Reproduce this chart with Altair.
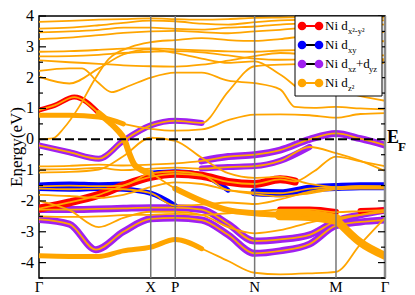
import altair as alt
import pandas as pd

# ---- k-path (path distance, Gamma=0) ----
K = [0.0, 0.31, 0.61, 0.86, 1.14, 1.39, 1.66, 1.93, 2.20, 2.46, 2.76, 3.03, 3.28, 3.53]
K_SYM = [0.0, 1.14, 1.39, 2.20, 3.03, 3.53]
K_LAB = ["Γ", "X", "P", "N", "M", "Γ"]
K_VLINES = [1.14, 1.39, 2.20, 3.03]
E_MAJ = [-4, -3, -2, -1, 0, 1, 2, 3, 4]
E_MIN = [-4.5, -3.5, -2.5, -1.5, -0.5, 0.5, 1.5, 2.5, 3.5]

# ---- bands (energies in eV) ----
U1_E = [3.81, 3.84, 3.88, 3.90, 3.92, 3.90, 3.88, 3.90, 3.94, 3.95, 3.96, 3.95, 3.94, 3.95]
U2_E = [3.59, 3.62, 3.70, 3.78, 3.85, 3.83, 3.75, 3.72, 3.80, 3.86, 3.88, 3.90, 3.88, 3.86]
U3_E = [3.47, 3.50, 3.55, 3.62, 3.62, 3.58, 3.56, 3.62, 3.66, 3.72, 3.78, 3.80, 3.76, 3.72]
U4_E = [3.25, 3.30, 3.38, 3.45, 3.50, 3.52, 3.48, 3.44, 3.50, 3.55, 3.62, 3.58, 3.52, 3.48]
U5_E = [2.84, 2.86, 2.90, 2.94, 2.95, 2.92, 2.88, 2.85, 2.84, 2.88, 2.90, 2.80, 2.75, 2.72]
U6_E = [2.69, 2.70, 2.74, 2.80, 2.84, 2.86, 2.82, 2.72, 2.62, 2.58, 2.60, 2.62, 2.58, 2.55]
U7_E = [2.56, 2.50, 2.45, 2.40, 2.37, 2.36, 2.42, 2.55, 2.70, 2.80, 2.75, 2.68, 2.62, 2.60]
U9_E = [2.03, 1.81, 2.30, 2.75, 2.92, 2.80, 2.62, 2.48, 2.53, 2.10, 1.50, 1.60, 1.40, 1.25]
S_K = [0.0, 0.14, 0.25, 0.41, 0.56, 0.71, 0.94, 1.14, 1.39, 1.66, 1.93, 2.20, 2.46, 2.76, 3.03, 3.28, 3.53]
S_E = [0.00, 0.03, 0.35, 1.06, 1.90, 2.60, 3.00, 3.15, 3.22, 3.28, 3.22, 3.19, 3.25, 3.35, 3.30, 3.22, 3.18]
U8_K = [0.0, 0.31, 0.44, 0.60, 0.74, 0.91, 1.14, 1.39, 1.66, 1.93, 2.20, 2.46, 2.61, 2.81, 3.03, 3.28, 3.53]
U8_E = [2.22, 2.30, 2.30, 1.85, 1.53, 1.72, 2.00, 2.16, 2.16, 1.90, 1.82, 1.62, 1.05, 1.02, 1.05, 1.00, 0.97]
P1_E = [-0.20, -0.42, -0.63, -0.05, 0.45, 0.60, 0.53, 1.55, 2.37, 2.42, 2.45, 2.35, 2.40, 2.48]
F1_E = [0.78, 0.78, 0.72, 0.50, 0.34, 0.28, 0.32, 0.62, 0.80, 0.81, 0.78, 0.70, 0.82, 0.85]
R1_K = [0.0, 0.16, 0.36, 0.61, 0.72, 0.80, 0.87, 0.92, 0.98, 1.14, 1.39, 1.66, 1.93, 2.20, 2.46, 2.76, 3.03, 3.28, 3.53]
R1_E = [0.95, 1.10, 1.37, 0.85, 0.55, 0.30, 0.00, -0.45, -0.85, -1.10, -1.60, -2.00, -2.30, -2.40, -2.45, -2.47, -2.60, -3.35, -3.78]
D_E = [-1.08, -1.06, -0.98, -0.55, 0.05, -0.05, -0.60, -1.10, -1.25, -1.22, -1.45, -1.55, -1.52, -1.55]
P2_E = [-0.88, -0.86, -0.82, -0.85, -0.82, -0.78, -0.70, -0.56, -0.50, -0.35, 0.00, 0.19, 0.02, -0.19]
P3_E = [-0.98, -0.97, -0.93, -1.00, -0.95, -0.92, -0.95, -0.90, -0.87, -0.70, -0.25, -0.45, -0.70, -1.03]
R2_K = [0.0, 0.31, 0.61, 0.86, 1.14, 1.39, 1.66, 1.93, 2.20, 2.46, 2.61, 2.81, 3.03, 3.28, 3.53]
R2_E = [-2.25, -2.05, -1.80, -1.50, -1.22, -1.12, -1.18, -1.38, -1.45, -1.30, -1.37, -1.03, -0.56, -0.72, -0.87]
B1_E = [-1.53, -1.50, -1.52, -1.50, -1.10, -1.05, -1.15, -1.65, -1.72, -1.75, -1.60, -1.55, -1.52, -1.52]
B2_E = [-1.60, -1.62, -1.60, -1.62, -1.75, -2.15, -2.12, -2.05, -2.10, -1.95, -1.70, -1.58, -1.56, -1.56]
O3_E = [-1.80, -1.84, -1.90, -1.80, -1.55, -1.40, -1.45, -1.65, -1.78, -1.85, -1.75, -1.62, -1.60, -1.60]
OD_E = [-2.00, -2.30, -2.85, -2.55, -2.35, -2.35, -2.45, -2.85, -3.05, -2.95, -2.70, -2.55, -2.45, -2.35]
P4_E = [-2.28, -2.28, -2.26, -2.24, -2.22, -2.22, -2.28, -2.75, -3.30, -3.25, -3.10, -2.65, -2.45, -2.30]
P5_K = [0.0, 0.31, 0.58, 0.86, 1.14, 1.39, 1.66, 1.93, 2.20, 2.46, 2.76, 3.03, 3.28, 3.53]
P5_E = [-2.60, -2.75, -3.58, -3.00, -2.58, -2.55, -2.62, -3.10, -3.70, -3.62, -3.40, -2.80, -2.68, -2.62]
R3_E = [-2.50, -2.52, -2.50, -2.46, -2.45, -2.42, -2.45, -2.40, -2.35, -2.28, -2.28, -2.36, -2.33, -2.30]
FO_E = [-3.78, -3.80, -3.80, -3.62, -3.50, -3.25, -3.55, -3.95, -4.33, -4.38, -4.35, -4.30, -3.40, -2.55]

BANDS = {
    "U1": (K, U1_E), "U2": (K, U2_E), "U3": (K, U3_E), "U4": (K, U4_E),
    "U5": (K, U5_E), "U6": (K, U6_E), "U7": (K, U7_E), "U9": (K, U9_E),
    "S": (S_K, S_E), "U8": (U8_K, U8_E), "P1": (K, P1_E), "F1": (K, F1_E),
    "R1": (R1_K, R1_E), "D": (K, D_E), "P2": (K, P2_E), "P3": (K, P3_E),
    "R2": (R2_K, R2_E), "B1": (K, B1_E), "B2": (K, B2_E), "O3": (K, O3_E),
    "OD": (K, OD_E), "P4": (K, P4_E), "P5": (P5_K, P5_E), "R3": (K, R3_E),
    "FO": (K, FO_E),
}

RED, BLUE, PURPLE, ORANGE = "#ff0000", "#0000ff", "#a020f0", "#ffa500"

# fat-band (orbital character) segments: band, colour, k from, k to, width
FAT = [
    ("P1", PURPLE, 0.0, 1.66, 6), ("P2", PURPLE, 1.66, 3.53, 7), ("P3", PURPLE, 1.66, 2.76, 6),
    ("P4", PURPLE, 0.0, 3.53, 7), ("P5", PURPLE, 0.0, 3.53, 7),
    ("B1", BLUE, 0.0, 0.86, 8), ("B1", BLUE, 1.14, 1.93, 5), ("B1", BLUE, 2.20, 3.53, 8),
    ("B2", BLUE, 0.0, 1.39, 5),
    ("R2", RED, 0.0, 2.61, 8), ("R1", RED, 0.0, 0.61, 5),
    ("R3", RED, 2.46, 3.03, 6), ("R3", RED, 3.28, 3.53, 6),
    ("F1", ORANGE, 0.0, 0.86, 5), ("R1", ORANGE, 0.61, 1.14, 6), ("R1", ORANGE, 1.39, 2.46, 6),
    ("R1", ORANGE, 2.46, 3.03, 11), ("R1", ORANGE, 3.03, 3.53, 8), ("FO", ORANGE, 0.0, 1.66, 5),
]

rows = []
for name, (ks, es) in BANDS.items():
    for k, e in zip(ks, es):
        rows.append({"band": name, "k": k, "E": e})
thin = pd.DataFrame(rows)

frows = []
for i, (name, col, k0, k1, w) in enumerate(FAT):
    ks, es = BANDS[name]
    for k, e in zip(ks, es):
        if k0 - 1e-9 <= k <= k1 + 1e-9:
            frows.append({"seg": i, "k": k, "E": e, "col": col, "w": w})
fat = pd.DataFrame(frows)

W, H = 346, 262
SERIF = "Liberation Serif"
xs = alt.Scale(domain=[0, 3.53], nice=False, zero=False)
ys = alt.Scale(domain=[-4.5, 4], nice=False, zero=False)
Xk = alt.X("k:Q", scale=xs, axis=None)
YE = alt.Y("E:Q", scale=ys, axis=None)


def fat_layer(color):
    d = fat[fat["col"] == color]
    return alt.Chart(d).mark_line(interpolate="monotone", clip=True, strokeCap="round").encode(
        x=Xk, y=YE, detail="seg:N", color=alt.Color("col:N", scale=None),
        strokeWidth=alt.StrokeWidth("w:Q", scale=None))


thin_layer = alt.Chart(thin).mark_line(interpolate="monotone", clip=True, color=ORANGE,
                                       strokeWidth=1.8).encode(x=Xk, y=YE, detail="band:N")

vl = alt.Chart(pd.DataFrame({"k": K_VLINES})).mark_rule(color="#777777", strokeWidth=1.5).encode(
    x=Xk, y=alt.value(0), y2=alt.value(H))
vr = alt.Chart(pd.DataFrame({"k": [3.53]})).mark_rule(color="#888888", strokeWidth=2.5).encode(
    x=Xk, y=alt.value(0), y2=alt.value(H))
ef = alt.Chart(pd.DataFrame({"E": [0]})).mark_rule(color="black", strokeWidth=2, strokeDash=[9, 4]).encode(
    y=YE, x=alt.value(0), x2=alt.value(W))

tk = []
for xa, xb, vals in [(0, 7, E_MAJ), (0, 4, E_MIN), (W - 7, W, E_MAJ), (W - 4, W, E_MIN)]:
    tk.append(alt.Chart(pd.DataFrame({"E": vals})).mark_rule(color="black", strokeWidth=1.2).encode(
        y=YE, x=alt.value(xa), x2=alt.value(xb)))

ylab = alt.Chart(pd.DataFrame({"E": E_MAJ, "t": [str(v) for v in E_MAJ]})).mark_text(
    font=SERIF, fontSize=16, align="right", baseline="middle", color="black").encode(
    x=alt.value(-5), y=YE, text="t:N")

xlab = alt.Chart(pd.DataFrame({"k": K_SYM, "t": K_LAB})).mark_text(
    font=SERIF, fontSize=15, baseline="alphabetic", color="black").encode(
    x=Xk, y=alt.value(H + 14), text="t:N")

ytitle = alt.Chart(pd.DataFrame({"t": ["Energy(eV)"]})).mark_text(
    font=SERIF, fontSize=17, angle=270, align="center", baseline="alphabetic", color="black").encode(
    x=alt.value(-17), y=alt.value(H / 2), text="t:N")

efE = alt.Chart(pd.DataFrame({"t": ["E"]})).mark_text(
    font=SERIF, fontSize=18, fontWeight="bold", align="left", baseline="alphabetic", dy=4, color="black").encode(
    x=alt.value(W + 2), y=alt.datum(0), text="t:N")
efF = alt.Chart(pd.DataFrame({"t": ["F"]})).mark_text(
    font=SERIF, fontSize=13, fontWeight="bold", align="left", baseline="alphabetic", dy=12, color="black").encode(
    x=alt.value(W + 13), y=alt.datum(0), text="t:N")

# ---- legend ----
LEG_COL = [RED, BLUE, PURPLE, ORANGE]
LEG_LINE = [RED, "black", "black", ORANGE]
LEG_Y = [10, 29, 48, 67]
leg = [alt.Chart(pd.DataFrame({"a": [0]})).mark_rect(fill="white", stroke="black", strokeWidth=1).encode(
    x=alt.value(W - 90), x2=alt.value(W - 3), y=alt.value(0), y2=alt.value(80))]
for c, lc, yy in zip(LEG_COL, LEG_LINE, LEG_Y):
    leg.append(alt.Chart(pd.DataFrame({"a": [0]})).mark_rule(color=lc, strokeWidth=2).encode(
        x=alt.value(W - 83), x2=alt.value(W - 66), y=alt.value(yy)))
    for xx in (W - 83, W - 66):
        leg.append(alt.Chart(pd.DataFrame({"a": [0]})).mark_point(
            filled=True, color=c, size=75, opacity=1).encode(x=alt.value(xx), y=alt.value(yy)))
LEG_TXT = [
    [(0, "Ni d", 13, 0), (23, "x²-y²", 8.5, 5)],
    [(0, "Ni d", 13, 0), (23, "xy", 8.5, 5)],
    [(0, "Ni d", 13, 0), (23, "xz", 8.5, 5), (31, "+d", 13, 0), (44, "yz", 8.5, 5)],
    [(0, "Ni d", 13, 0), (23, "z²", 8.5, 5)],
]
for yy, parts in zip(LEG_Y, LEG_TXT):
    for xx, t, fs, dy in parts:
        leg.append(alt.Chart(pd.DataFrame({"t": [t]})).mark_text(
            font=SERIF, fontSize=fs, align="left", baseline="middle", dy=dy, color="black").encode(
            x=alt.value(W - 60 + xx), y=alt.value(yy), text="t:N"))

chart = alt.layer(
    fat_layer(PURPLE), fat_layer(BLUE), fat_layer(RED), fat_layer(ORANGE), thin_layer,
    vl, vr, ef, *tk, ylab, xlab, ytitle, efE, efF, *leg,
).properties(
    width=W, height=H, autosize=alt.AutoSizeParams(type="none"),
    padding={"left": 31, "top": 8, "right": 22, "bottom": 16},
).configure_view(stroke="black", strokeWidth=1.5)

chart.save("out.html", embed_options={"renderer": "svg", "actions": False})
